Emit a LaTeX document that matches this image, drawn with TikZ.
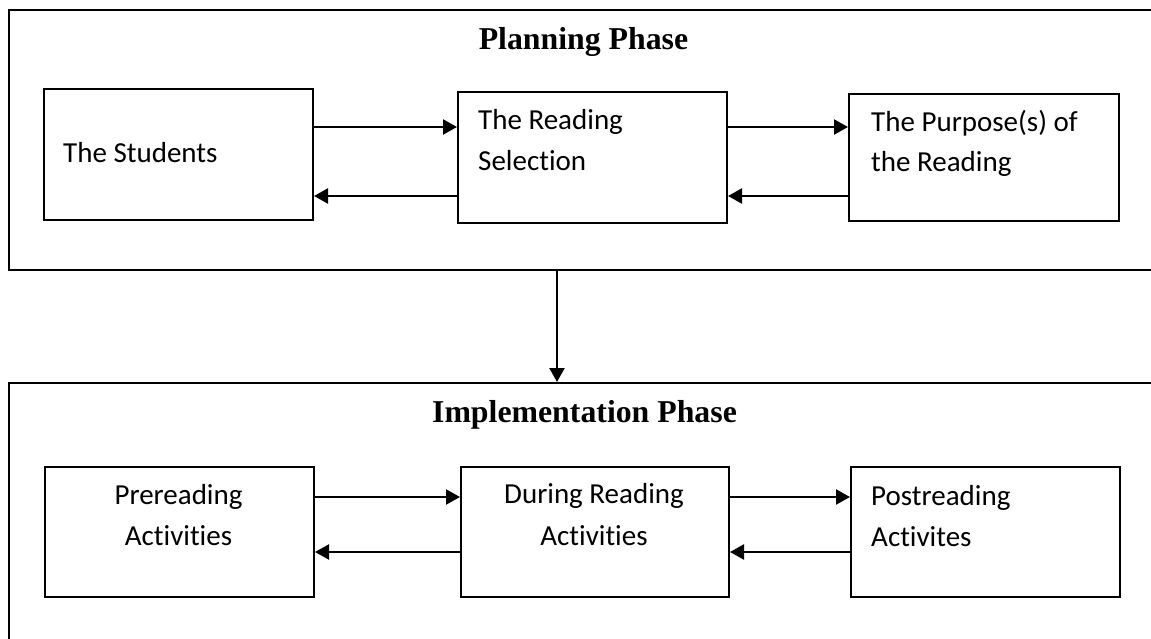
\documentclass[tikz,border=0pt]{standalone}
\usepackage{fontspec}
\setmainfont{Carlito}[Ligatures=NoCommon]
\newfontfamily\ttlfont{Liberation Serif}
\usetikzlibrary{arrows.meta}
\tikzset{
  box/.style={draw, line width=2pt, inner sep=0pt, anchor=north west},
  outerbox/.style={draw, line width=2pt, inner sep=0pt, anchor=north west},
  lbl/.style={font=\fontsize{29}{41}\selectfont, inner sep=0pt},
  ttl/.style={font=\ttlfont\bfseries\fontsize{31.8}{38}\selectfont, inner sep=0pt, anchor=base},
  arr/.style={line width=2.2pt, -{Triangle[length=14pt,width=15pt]}}
}
\begin{document}
\begin{tikzpicture}[x=1pt,y=-1pt]
\useasboundingbox (0,0) rectangle (1151,639);
\clip (0,0) rectangle (1151,639);
% outer phase boxes (right and bottom edges lie outside the picture)
\node[outerbox, minimum width=1152pt, minimum height=260pt] (plan) at (8,9) {};
\node[outerbox, minimum width=1152pt, minimum height=330pt] (impl) at (8,382) {};
% titles
\node[ttl] (plant) at (583.5,50) {Planning Phase};
\node[ttl] (implt) at (584.5,422) {Implementation Phase};
% boxes
\node[box, minimum width=269pt, minimum height=131pt] (stu) at (43,88) {};
\node[box, minimum width=269pt, minimum height=131pt] (rs) at (457,91) {};
\node[box, minimum width=270pt, minimum height=127pt] (pur) at (848,93) {};
\node[box, minimum width=269pt, minimum height=130pt] (pre) at (44,466) {};
\node[box, minimum width=268pt, minimum height=130pt] (dur) at (460,466) {};
\node[box, minimum width=269pt, minimum height=130pt] (post) at (850,466) {};
% texts
\node[lbl, anchor=base west] (stut) at (63,163) {The Students};
\node[lbl, anchor=base west] (rst1) at (478,130) {The Reading};
\node[lbl, anchor=base west] (rst2) at (478,171) {Selection};
\node[lbl, anchor=base west] (purt1) at (871,132) {The Purpose(s) of};
\node[lbl, anchor=base west] (purt2) at (871,172) {the Reading};
\node[lbl, anchor=base] (pret1) at (178.5,504) {Prereading};
\node[lbl, anchor=base] (pret2) at (178.5,545) {Activities};
\node[lbl, anchor=base] (durt1) at (594,503) {During Reading};
\node[lbl, anchor=base] (durt2) at (594,545) {Activities};
\node[lbl, anchor=base west] (postt1) at (871,505) {Postreading};
\node[lbl, anchor=base west] (postt2) at (871,546) {Activites};
% connector levels
\coordinate (ya) at (0,127);
\coordinate (yb) at (0,196);
\coordinate (yc) at (0,497);
\coordinate (yd) at (0,552);
\coordinate (vx) at (557,0);
% arrows top row
\draw[arr] (stu.east |- ya) -- (rs.west |- ya);
\draw[arr] (rs.west |- yb) -- (stu.east |- yb);
\draw[arr] (rs.east |- ya) -- (pur.west |- ya);
\draw[arr] (pur.west |- yb) -- (rs.east |- yb);
% arrows bottom row
\draw[arr] (pre.east |- yc) -- (dur.west |- yc);
\draw[arr] (dur.west |- yd) -- (pre.east |- yd);
\draw[arr] (dur.east |- yc) -- (post.west |- yc);
\draw[arr] (post.west |- yd) -- (dur.east |- yd);
% phase connector
\draw[arr] (vx |- plan.south) -- (vx |- impl.north);
\end{tikzpicture}
\end{document}
